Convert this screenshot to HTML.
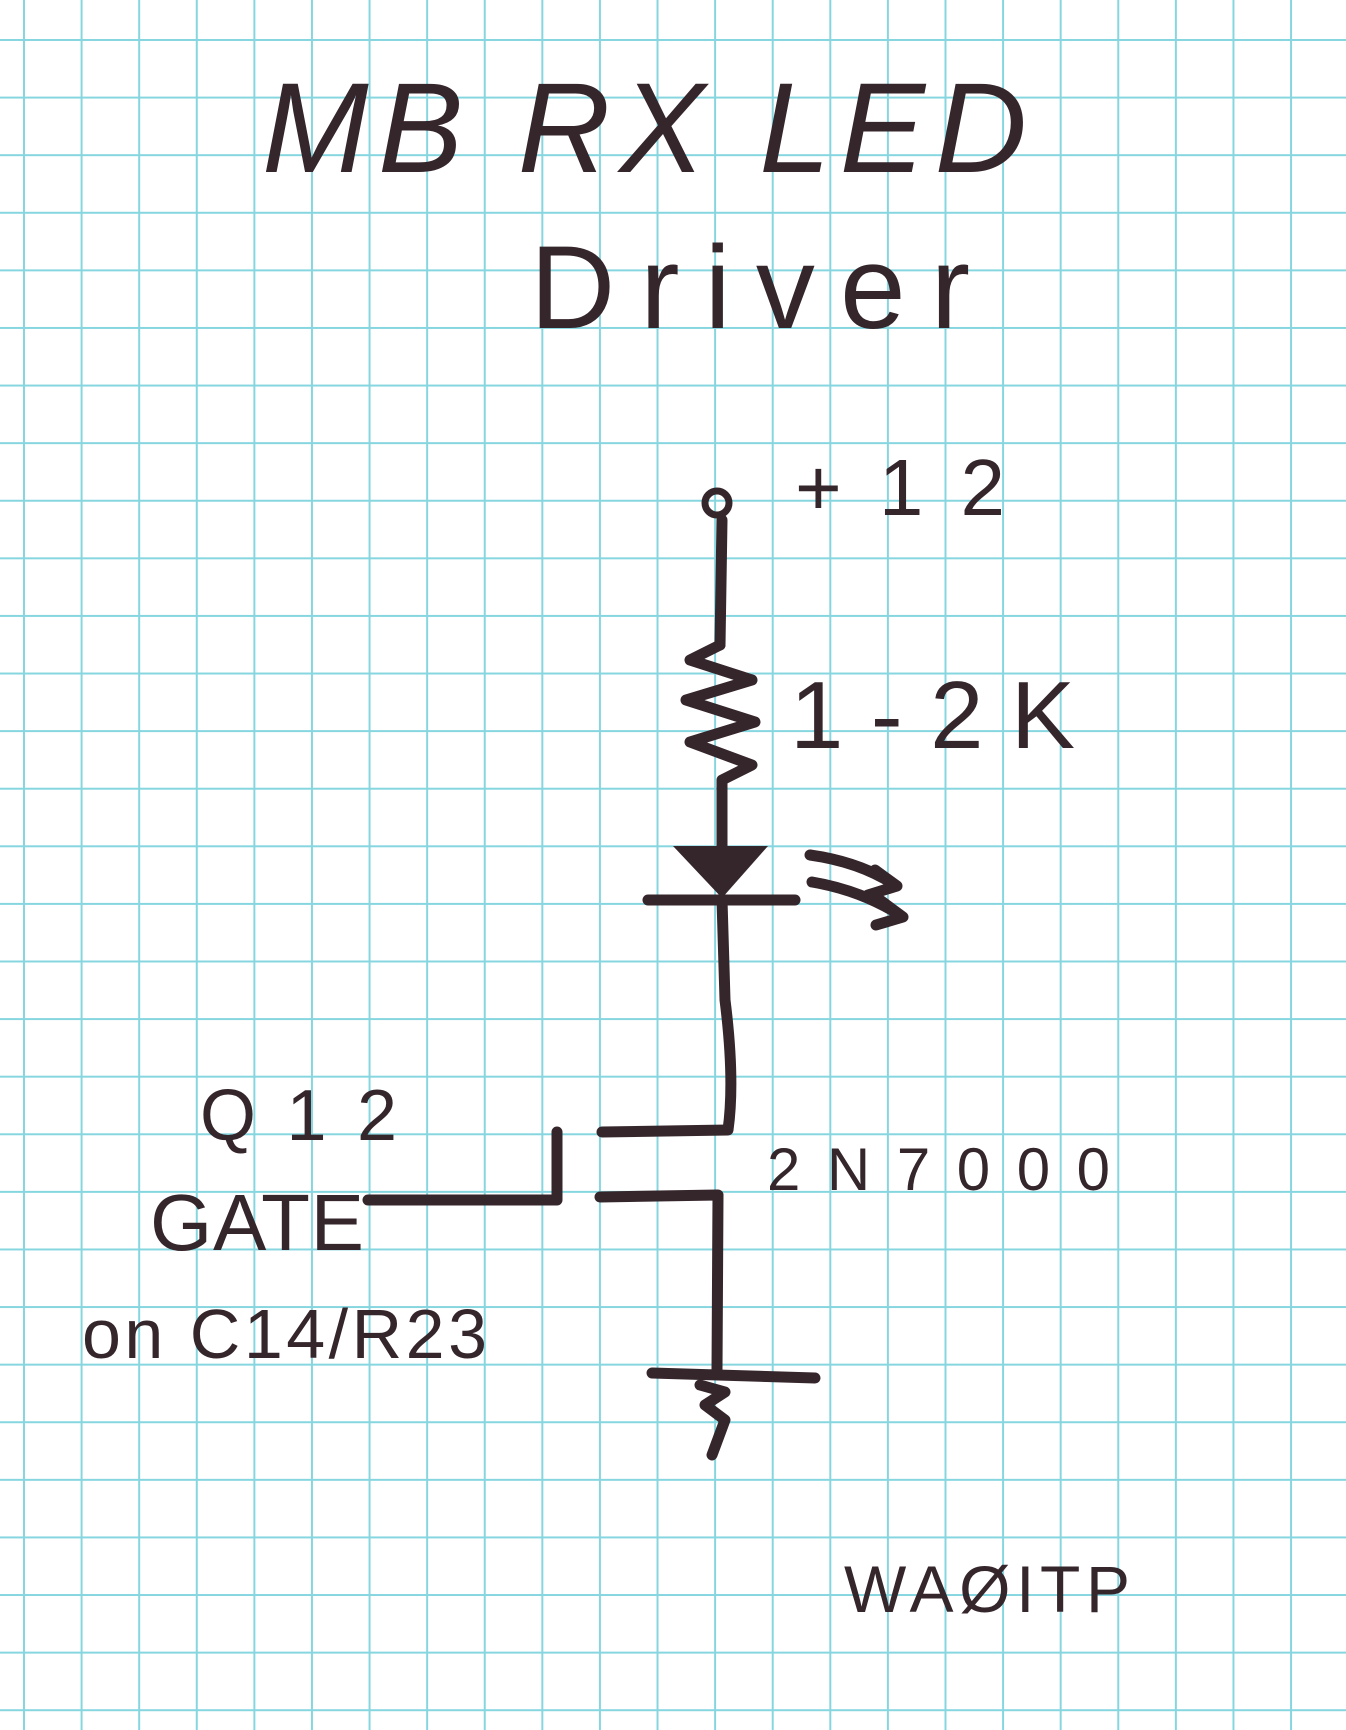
<!DOCTYPE html>
<html><head><meta charset="utf-8"><style>
html,body{margin:0;padding:0}
body{width:1346px;height:1730px;overflow:hidden;background-color:#fff;
background-image:linear-gradient(to right,#86d6e0 2px,transparent 2px),linear-gradient(to bottom,#86d6e0 2px,transparent 2px);
background-size:57.6px 57.6px;background-position:23px 39px;}
svg{position:absolute;left:0;top:0}
text{font-family:"Liberation Sans",sans-serif;fill:#35262b}
</style></head><body>
<svg width="1346" height="1730" viewBox="0 0 1346 1730">
<g fill="none" stroke="#35262b" stroke-width="11" stroke-linecap="round" stroke-linejoin="round">
<circle cx="717" cy="503" r="12" stroke-width="7"/>
<path d="M722 520 L720 645"/>
<path d="M720 645 L690 660 L752 680 L686 700 L755 722 L690 742 L752 765 L722 780 L722 848"/>
<path d="M648 900 L795 900"/>
<path d="M810 855 Q860 862 895 885 M875 870 L897 886 L868 895"/>
<path d="M812 882 Q860 890 900 915 M880 900 L903 917 L876 925"/>
<path d="M722 900 L725 1000 Q735 1080 728 1130 L602 1132"/>
<path d="M600 1197 L718 1195 L717 1370"/>
<path d="M557 1132 L557 1200 L368 1200"/>
<path d="M652 1373 L815 1378"/>
<path d="M700 1385 L725 1392 L705 1405 L725 1420 L712 1455"/>
</g>
<polygon points="673,846 768,846 722,898" fill="#35262b"/>
<text x="262" y="172" font-size="128" font-style="italic" textLength="765">MB RX LED</text>
<text x="530" y="328" font-size="118" textLength="440">Driver</text>
<text x="795" y="515" font-size="80" textLength="210">+12</text>
<text x="790" y="748" font-size="96" textLength="285">1-2K</text>
<text x="200" y="1140" font-size="72" textLength="197">Q12</text>
<text x="150" y="1250" font-size="80" textLength="214">GATE</text>
<text x="82" y="1358" font-size="70" textLength="405">on C14/R23</text>
<text x="767" y="1190" font-size="60" textLength="343">2N7000</text>
<text x="844" y="1612" font-size="66" textLength="286">WAØITP</text>
</svg>
</body></html>
